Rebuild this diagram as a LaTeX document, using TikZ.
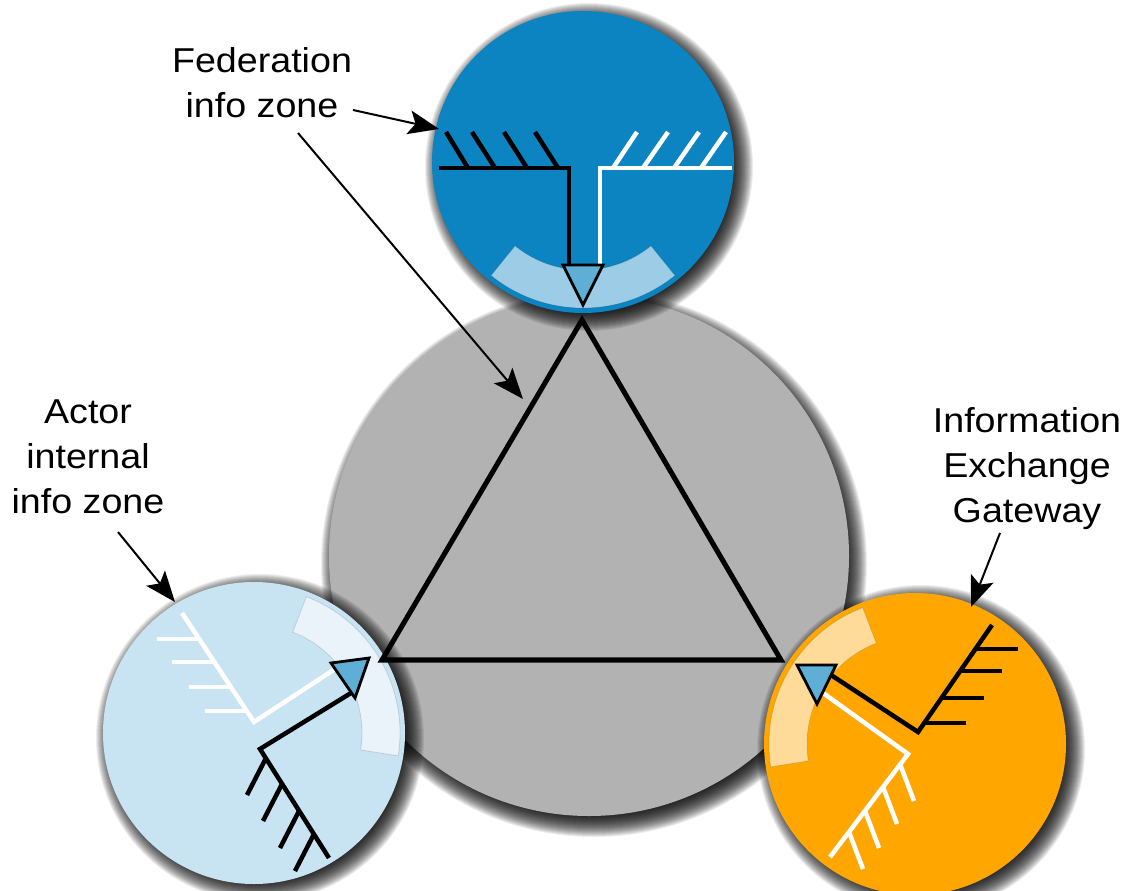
\documentclass[tikz,border=0pt]{standalone}
\usepackage{fontspec}
\setmainfont{Liberation Sans}[FakeStretch=1.09]
\usetikzlibrary{arrows.meta}

\definecolor{fedblue}{RGB}{11,132,193}
\definecolor{actorblue}{RGB}{200,227,241}
\definecolor{gateorange}{RGB}{255,166,0}
\definecolor{coregray}{RGB}{178,178,178}
\definecolor{portblue}{RGB}{94,174,214}

% translucent annular sector facing the core: #1 = zone centre, #2 = direction
\newcommand\zoneband[2]{%
  \path[band] ([shift={(#2-39:108)}]#1) -- ([shift={(#2-39:146)}]#1)
    arc[start angle=#2-39, delta angle=78, radius=146]
    -- ([shift={(#2+39:108)}]#1)
    arc[start angle=#2+39, delta angle=-78, radius=108] -- cycle;}

% soft drop shadow built from stacked translucent discs:
% #1 = centre, #2 = radius, #3 = offset
\newcommand\softshadow[3]{%
  \foreach \k in {-10,...,13}
    \fill[black, opacity=0.075] ([shift={#3}]#1) circle[radius=#2+\k];}

\begin{document}
\begin{tikzpicture}[x=0.75pt, y=-0.75pt,
  band/.style={fill=white, fill opacity=0.6, draw=black, draw opacity=0.12,
      line width=0.6pt},
  blackink/.style={draw=black, line width=3.4pt},
  whiteink/.style={draw=white, line width=3.4pt},
  port/.style={fill=portblue, draw=black, line width=2.1pt, line join=miter},
  rimline/.style={draw=black, line width=3.8pt, line join=miter},
  calltext/.style={font=\fontsize{25.9pt}{33.75pt}\selectfont, align=center,
      anchor=base, inner sep=0pt},
  callout/.style={draw=black, line width=1.5pt,
      -{Stealth[length=23pt, width=18pt, inset=5pt]}}]

\fill[white] (0,0) rectangle (1123,891);
\useasboundingbox (0,0) rectangle (1123,891);

% zone centres
\coordinate (core)  at (589,556);
\coordinate (fed)   at (583,162);
\coordinate (actor) at (254,733);
\coordinate (gate)  at (915,744);

% discs with their shadows
\softshadow{core}{260}{(5,8)}
\fill[coregray] (core) circle (260);
\softshadow{fed}{151}{(6,5)}
\fill[fedblue] (fed) circle (151);
\softshadow{actor}{151}{(6,5)}
\fill[actorblue] (actor) circle (151);
\softshadow{gate}{151}{(6,5)}
\fill[gateorange] (gate) circle (151);

% gateway bands
\zoneband{fed}{90}
\zoneband{actor}{330}
\zoneband{gate}{210}

% federation zone
\draw[blackink] (439,168) -- (569,168) -- (569,265);
\foreach \a/\b in {446/468, 472/495, 504/527, 535/558}
  \draw[blackink] (\a,132) -- (\b,168);
\draw[whiteink] (732,168) -- (600,168) -- (600,265);
\foreach \a/\b in {637/613, 668/643, 699/674, 726/701}
  \draw[whiteink] (\a,132) -- (\b,168);
\draw[port] (563,265) -- (603,265) -- (583,305) -- cycle;

% actor zone
\draw[whiteink] (182,613) -- (254,722) -- (335,669);
\foreach \a/\b in {247/711, 231/687, 214/662, 199/639}
  \draw[whiteink] (\a,\b) -- ++(-42,0);
\draw[blackink] (329,858) -- (260,749) -- (351,693);
\foreach \a/\b in {266/758, 282/784, 299/811, 314/834}
  \draw[blackink] (\a,\b) -- ++(-19,37);
\draw[port] (331,663) -- (369,658) -- (355,698) -- cycle;

% gateway zone
\draw[blackink] (992,625) -- (918,732) -- (831,675);
\foreach \a/\b in {924/723, 942/698, 960/671, 976/649}
  \draw[blackink] (\a,\b) -- ++(42,0);
\draw[whiteink] (830,857) -- (908,754) -- (823,693);
\foreach \a/\b in {900/764, 883/787, 865/811, 849/832}
  \draw[whiteink] (\a,\b) -- ++(14,37);
\draw[port] (797,665) -- (836,665) -- (817,704) -- cycle;

% core triangle
\draw[rimline] (582,320) -- (382,660) -- (781,660) -- cycle;

% labels (placed by the baseline of their last line)
\node[calltext] (fedtext)   at (262,118) {Federation\\info zone};
\node[calltext] (actortext) at (88,513)  {Actor\\internal\\info zone};
\node[calltext] (gatetext)  at (1027,522) {Information\\Exchange\\Gateway};

% callout arrows
\coordinate (fedA)    at (353,110);
\coordinate (fedAtip) at (439,129);
\coordinate (fedB)    at (298,133);
\coordinate (fedBtip) at (523,399);
\coordinate (actA)    at (118,532);
\coordinate (actAtip) at (175,602);
\coordinate (gateA)   at (1000,533);
\coordinate (gateAtip) at (971,607);
\draw[callout] (fedA) -- (fedAtip);
\draw[callout] (fedB) -- (fedBtip);
\draw[callout] (actA) -- (actAtip);
\draw[callout] (gateA) -- (gateAtip);
\end{tikzpicture}
\end{document}
